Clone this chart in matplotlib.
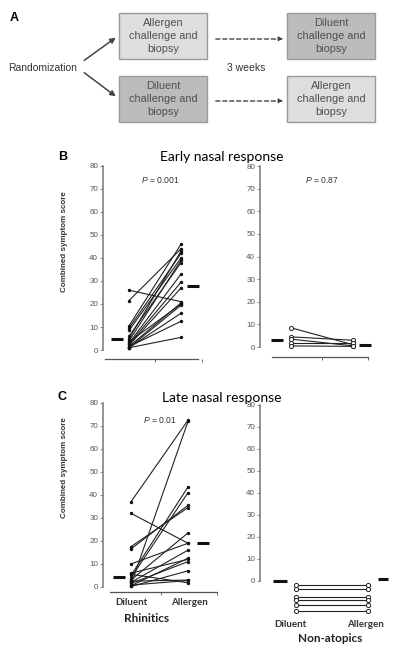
import numpy as np
import matplotlib
matplotlib.use("Agg")
import matplotlib.pyplot as plt
from matplotlib.patches import Rectangle, FancyArrowPatch

plt.rcParams['font.family'] = ['Liberation Sans', 'DejaVu Sans']
plt.rcParams['mathtext.fontset'] = 'custom'
plt.rcParams['mathtext.it'] = 'Liberation Sans:italic'
plt.rcParams['mathtext.rm'] = 'Liberation Sans'

# --- data (combined symptom score) ---
early_rhin_dil = [26, 21.5, 10.5, 9.5, 8.5, 6, 5, 4, 3, 2.5, 2, 1.5, 1, 1, 1.5, 1, 3.5]
early_rhin_all = [21, 44, 46, 42, 40, 38, 43, 39, 33, 29.5, 27, 20.5, 19.5, 16, 12.5, 5.5, 20]
early_rhin_med = [5, 28]

early_non_dil = [8.5, 4.5, 3.5, 2, 0.5]
early_non_all = [1, 3, 0.5, 2, 0.3]
early_non_med = [3, 1]

late_rhin_dil = [37, 32, 17.5, 16.5, 1, 10, 5, 4, 3, 2, 0.5, 1.5, 6, 0.2, 2.5, 5.5, 0.8]
late_rhin_all = [72.5, 19, 34.5, 35.5, 72, 19, 43.5, 41, 23.5, 16, 12.5, 11, 12, 7, 3, 1.8, 2.8]
late_rhin_med = [4.5, 19]

late_non_dil = [-2, -3.5, -7.5, -8.5, -11, -13.5]
late_non_all = [-2, -3.5, -7.5, -8.5, -11, -13.5]
late_non_med = [0, 0.8]

groups = ['Diluent', 'Allergen']
yticks = list(range(0, 81, 10))

W, H = 400, 649
fig = plt.figure(figsize=(W / 100, H / 100), dpi=100)


def px_axes(l, t, r, b):
    return fig.add_axes([l / W, 1 - b / H, (r - l) / W, (b - t) / H])


# overlay in pixel coordinates for panel A and free text
ax0 = fig.add_axes([0, 0, 1, 1], zorder=-1)
ax0.set_xlim(0, W)
ax0.set_ylim(H, 0)
ax0.axis('off')

# panel A flow chart
boxes = [(119, 13, 'Allergen\nchallenge and\nbiopsy', '#dedede'),
         (119, 76, 'Diluent\nchallenge and\nbiopsy', '#bcbcbc'),
         (287, 13, 'Diluent\nchallenge and\nbiopsy', '#bcbcbc'),
         (287, 76, 'Allergen\nchallenge and\nbiopsy', '#dedede')]
for x, y, txt, fc in boxes:
    ax0.add_patch(Rectangle((x, y), 88, 46, facecolor=fc, edgecolor='#9a9a9a', lw=1))
    ax0.text(x + 44, y + 23, txt, ha='center', va='center', fontsize=7.9,
             color='#505050', linespacing=1.35)
ax0.text(8, 68, 'Randomization', ha='left', va='center', fontsize=7.5, color='#333333')
ax0.text(246, 68, '3 weeks', ha='center', va='center', fontsize=7.5, color='#333333')
for (x1, y1), (x2, y2) in [((82, 62), (118, 36)), ((82, 71), (118, 98))]:
    ax0.add_patch(FancyArrowPatch((x1, y1), (x2, y2), arrowstyle='-|>', mutation_scale=8,
                                  color='#444444', lw=1.1))
for y in [39, 101]:
    ax0.add_patch(FancyArrowPatch((213, y), (286, y), arrowstyle='-|>', mutation_scale=6,
                                  color='#444444', lw=1, linestyle=(0, (3, 2))))

ax0.text(10, 18, 'A', fontsize=9, fontweight='bold', ha='left', va='center')
ax0.text(58, 157, 'B', fontsize=9, fontweight='bold', ha='left', va='center')
ax0.text(58, 397, 'C', fontsize=9, fontweight='bold', ha='left', va='center')

ax0.text(222, 157, 'Early nasal response', fontsize=10, ha='center', va='center',
         family=['Lato', 'DejaVu Sans'])
ax0.text(222, 398, 'Late nasal response', fontsize=10, ha='center', va='center',
         family=['Lato', 'DejaVu Sans'])
for yc in [242, 468]:
    ax0.text(65, yc, 'Combined symptom score', fontsize=5.8, fontweight='bold',
             rotation=90, ha='center', va='center', color='#333333')
ax0.text(147, 619, 'Rhinitics', fontsize=8.5, fontweight='bold', ha='center', va='center',
         family=['Lato', 'DejaVu Sans'], color='#222222')
ax0.text(330, 639, 'Non-atopics', fontsize=8.5, fontweight='bold', ha='center', va='center',
         family=['Lato', 'DejaVu Sans'], color='#222222')


def style(ax, xlim, ylim, bottom_bounds=None, minor=None):
    ax.set_xlim(*xlim)
    ax.set_ylim(*ylim)
    ax.patch.set_alpha(0)
    for s in ['top', 'right']:
        ax.spines[s].set_visible(False)
    ax.spines['left'].set_bounds(0, 80)
    ax.spines['left'].set_color('#777777')
    ax.spines['left'].set_linewidth(1.1)
    ax.set_yticks(yticks)
    ax.tick_params(axis='y', labelsize=5.8, labelcolor='#555555', length=2,
                   width=0.6, color='#777777', pad=1.5)
    if bottom_bounds is None:
        ax.spines['bottom'].set_visible(False)
    else:
        ax.spines['bottom'].set_bounds(*bottom_bounds)
        ax.spines['bottom'].set_color('#555555')
        ax.spines['bottom'].set_linewidth(0.9)
    ax.set_xticks([])
    if minor is not None:
        ax.set_xticks(minor, minor=True)
        ax.tick_params(axis='x', which='minor', length=2, width=0.6, color='#555555')


def pairs(ax, dil, allg, med, xs, open_marker=False, mx=None):
    for a, b in zip(dil, allg):
        ax.plot(xs, [a, b], color='#222222', lw=0.8, zorder=2)
    if open_marker:
        ax.scatter([xs[0]] * len(dil) + [xs[1]] * len(allg), list(dil) + list(allg),
                   s=9, facecolor='white', edgecolor='#222222', lw=0.7, zorder=3)
    else:
        ax.scatter([xs[0]] * len(dil) + [xs[1]] * len(allg), list(dil) + list(allg),
                   s=6, color='#111111', zorder=3, lw=0)
    for (x1, x2), m in zip(mx, med):
        ax.plot([x1, x2], [m, m], color='#111111', lw=2.2, solid_capstyle='butt')


# panel B left (rhinitics, early)
axb1 = px_axes(103, 162, 205, 359)
style(axb1, (0.5, 2.46), (-3.9, 81.7), bottom_bounds=(0.54, 2.33), minor=[1.5, 2.4])
pairs(axb1, early_rhin_dil, early_rhin_all, early_rhin_med, [1, 2],
      mx=[(0.65, 0.88), (2.11, 2.34)])
axb1.text(1.6, 74, '$P$ = 0.001', fontsize=6.2, ha='center', va='center', color='#333333')

# panel B right (non-atopics, early)
axb2 = px_axes(260, 162, 375, 357)
style(axb2, (0.5, 2.35), (-4.4, 81.8), bottom_bounds=(0.69, 2.23), minor=[1.5, 2.23])
pairs(axb2, early_non_dil, early_non_all, early_non_med, [1, 2], open_marker=True,
      mx=[(0.68, 0.87), (2.1, 2.29)])
axb2.text(1.5, 74, '$P$ = 0.87', fontsize=6.2, ha='center', va='center', color='#333333')

# panel C left (rhinitics, late)
axc1 = px_axes(103, 399, 220, 592)
style(axc1, (0.51, 2.56), (-2.2, 81.7), bottom_bounds=(0.63, 2.51), minor=[1.53, 2.51])
pairs(axc1, late_rhin_dil, late_rhin_all, late_rhin_med, [1, 2],
      mx=[(0.68, 0.9), (2.15, 2.37)])
axc1.text(1.5, 72.5, '$P$ = 0.01', fontsize=6.2, ha='center', va='center', color='#333333')

# panel C right (non-atopics, late)
axc2 = px_axes(260, 401, 392, 614)
style(axc2, (0.5, 2.33), (-15, 81.8))
pairs(axc2, late_non_dil, late_non_all, late_non_med, [1, 2], open_marker=True,
      mx=[(0.68, 0.875), (2.14, 2.28)])

for ax, xs, pad in [(axc1, [1, 2.03], 4), (axc2, [0.92, 1.96], 4)]:
    ax.set_xticks(xs)
    ax.set_xticklabels(groups, fontsize=7, fontweight='bold', color='#333333',
                       family=['Lato', 'DejaVu Sans'])
    ax.tick_params(axis='x', which='major', length=0, pad=pad)

fig.savefig('out.png', dpi=100)
